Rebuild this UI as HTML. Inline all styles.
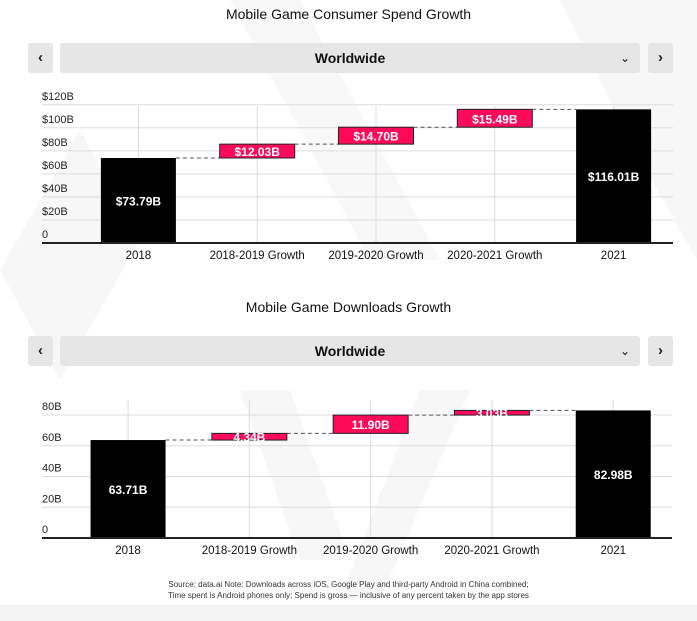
<!DOCTYPE html>
<html><head><meta charset="utf-8"><style>
body{margin:0;width:697px;height:621px;background:#fff;font-family:"Liberation Sans",sans-serif;overflow:hidden;position:relative}
.bg{position:absolute;left:0;top:0}
.title{position:absolute;left:0;width:697px;text-align:center;font-size:14px;color:#111}
.btn{position:absolute;width:25px;height:30px;background:#e6e6e6;border-radius:3px;text-align:center;line-height:30px;font-size:15px;font-weight:bold;color:#222}
.dd{position:absolute;left:60px;width:580px;height:30px;background:#e6e6e6;border-radius:3px;text-align:center;line-height:30px;font-size:14px;font-weight:bold;color:#111}
.dd span{position:absolute;right:10px;top:0;font-weight:normal;font-size:12px}
svg text{font-family:"Liberation Sans",sans-serif}
.foot{position:absolute;top:579px;left:0;width:697px;text-align:center;font-size:8px;color:#333;line-height:11px}
</style></head><body>
<svg class="bg" width="697" height="621">
<polygon points="0,270 80,130 140,240 60,380" fill="#f7f7f7"/>
<polygon points="230,0 300,0 440,260 370,260" fill="#f8f8f8"/>
<polygon points="560,0 697,0 697,260 640,160" fill="#f7f7f7"/>
<polygon points="240,390 290,390 350,560 300,560" fill="#f7f7f7"/>
<polygon points="420,390 470,390 380,600 340,600" fill="#f7f7f7"/>
<rect x="0" y="605" width="697" height="16" fill="#f4f4f4"/>
</svg>
<div class="title" style="top:6px">Mobile Game Consumer Spend Growth</div>
<div class="btn" style="left:28px;top:43px">‹</div>
<div class="dd" style="top:43px">Worldwide<span>⌄</span></div>
<div class="btn" style="left:648px;top:43px">›</div>
<div class="title" style="top:299px">Mobile Game Downloads Growth</div>
<div class="btn" style="left:28px;top:336px">‹</div>
<div class="dd" style="top:336px">Worldwide<span>⌄</span></div>
<div class="btn" style="left:648px;top:336px">›</div>
<svg id="c1" style="position:absolute;left:0;top:0" width="697" height="621"></svg>
<svg id="c2" style="position:absolute;left:0;top:0" width="697" height="621"></svg>
<div class="foot">Source: data.ai Note: Downloads across iOS, Google Play and third-party Android in China combined;<br>Time spent is Android phones only; Spend is gross — inclusive of any percent taken by the app stores</div>
<script>
const categories=["2018","2018-2019 Growth","2019-2020 Growth","2020-2021 Growth","2021"];
const spendValues=[73.79,12.03,14.70,15.49,116.01];
const spendLabels=["$73.79B","$12.03B","$14.70B","$15.49B","$116.01B"];
const spendTicks=[0,20,40,60,80,100,120];
const spendTickLabels=["0","$20B","$40B","$60B","$80B","$100B","$120B"];
const dlValues=[63.71,4.34,11.90,3.03,82.98];
const dlLabels=["63.71B","4.34B","11.90B","3.03B","82.98B"];
const dlTicks=[0,20,40,60,80];
const dlTickLabels=["0","20B","40B","60B","80B"];
const NS="http://www.w3.org/2000/svg";
function mk(svg,tag,a,txt){const e=document.createElementNS(NS,tag);for(const k in a)e.setAttribute(k,a[k]);if(txt!==undefined)e.textContent=txt;svg.appendChild(e);return e;}
function draw(id,vals,labels,ticks,tickLabels,o){
 const svg=document.getElementById(id);
 const y=v=>o.base-v*o.ppu;
 const cx=i=>o.x0+(i+0.5)*o.band;
 ticks.forEach((t,i)=>{
  const g=mk(svg,'line',{x1:42,x2:o.gridR,y1:y(t),y2:y(t),stroke:'#ddd','stroke-width':1});
  
  
  const l=mk(svg,'text',{x:42,y:y(t)-5,'font-size':11,fill:'#222'},tickLabels[i]);
  
  
 });
 categories.forEach((c,i)=>{
  mk(svg,'line',{x1:cx(i),x2:cx(i),y1:o.top,y2:o.base,stroke:'#ddd','stroke-width':1});
 });
 let run=0;
 const bw=75;
 vals.forEach((v,i)=>{
  let y0,y1,fill;
  if(i===0||i===vals.length-1){y0=0;y1=v;fill='#000';run=(i===0?v:run);}
  else{y0=run;y1=run+v;run=y1;fill='#ff0a5a';}
  const r=mk(svg,'rect',{x:cx(i)-bw/2,y:y(y1),width:bw,height:y(y0)-y(y1),fill:fill,stroke:fill==='#000'?'none':'#222','stroke-width':fill==='#000'?0:1});
  
  
  if(i<vals.length-1){
   const top=(i===0)?v:y1;
   const d=mk(svg,'line',{x1:cx(i)+bw/2,x2:cx(i+1)-bw/2,y1:y(top),y2:y(top),stroke:'#555','stroke-dasharray':'4,3','stroke-width':1});
   
   
  }
  const ly=(y(y0)+y(y1))/2+5;
  const t=mk(svg,'text',{x:cx(i),y:ly,'font-size':12,'font-weight':'bold',fill:'#fff','text-anchor':'middle'},labels[i]);
  
  
  const cl=mk(svg,'text',{x:cx(i),y:o.base+16,'font-size':11.5,fill:'#111','text-anchor':'middle'},categories[i]);
  
  
 });
 mk(svg,'line',{x1:42,x2:o.gridR,y1:o.base,y2:o.base,stroke:'#222','stroke-width':2});
}
draw('c1',spendValues,spendLabels,spendTicks,spendTickLabels,{base:243,ppu:1.152,x0:79,band:118.8,gridR:673,top:106});
draw('c2',dlValues,dlLabels,dlTicks,dlTickLabels,{base:538,ppu:1.5375,x0:67.4,band:121.3,gridR:672,top:400});
</script>
</body></html>
